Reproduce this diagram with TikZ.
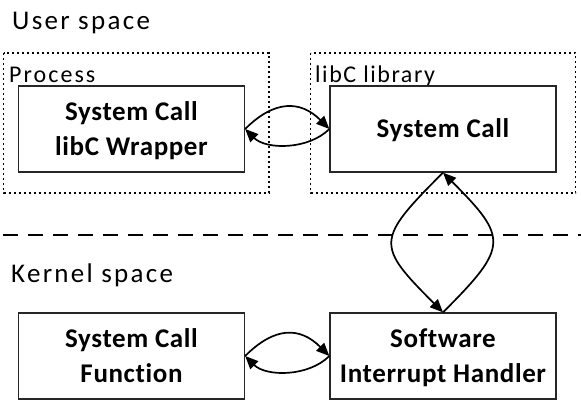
\documentclass[tikz,border=0pt]{standalone}
\usepackage{fontspec}
\setmainfont{Carlito}
\newfontfamily\labelfont[LetterSpace=8.5]{Carlito}
\newfontfamily\libfont[LetterSpace=6.5]{Carlito}
\newfontfamily\boxfont[LetterSpace=2.3,Ligatures={NoCommon}]{Carlito}
\usetikzlibrary{arrows.meta}
\begin{document}
\begin{tikzpicture}[x=1pt,y=-1pt,
  regionlabel/.style={anchor=base west,inner sep=0pt,font=\labelfont\fontsize{27}{30}\selectfont},
  grouplabel/.style={anchor=base west,inner sep=0pt,font=\labelfont\fontsize{24}{26}\selectfont},
  groupbox/.style={draw,line width=1.4pt,dash pattern=on 2pt off 3pt},
  funcbox/.style={draw=black!85,line width=1.3pt,minimum width=226pt,minimum height=86pt,inner sep=0pt,align=center,text height=17pt,text depth=0pt,font=\boxfont\fontsize{27}{35}\selectfont\bfseries},
  twoline/.style={text height=52pt,text depth=0pt},
  flow/.style={line width=1.7pt,-{Triangle[length=13pt,width=11pt]}}
]
\useasboundingbox (0,0) rectangle (581,404);
\node[regionlabel] (us) at (12,30) {User space};
\node[regionlabel] (ks) at (11,282) {Kernel space};
\draw[groupbox] (3.7,53) rectangle (269,193);
\draw[groupbox] (310.7,53) rectangle (575.7,193);
\node[grouplabel] (proc) at (9,82) {Process};
\node[grouplabel,font=\libfont\fontsize{24}{26}\selectfont] (lib) at (315,82) {libC library};
\draw[line width=1.4pt,dash pattern=on 15pt off 10pt] (3,235) -- (581,235);
\node[funcbox,twoline] (wrap) at (131.5,129) {System Call\\libC Wrapper};
\node[funcbox] (sc) at (443,129) {System Call};
\node[funcbox,twoline] (fn) at (131.5,356) {System Call\\Function};
\node[funcbox,twoline] (sih) at (443,356) {Software\\Interrupt Handler};
\draw[flow] (wrap.east) to[out=45,in=135,looseness=1.25] (sc.west);
\draw[flow] (sc.west) to[out=-135,in=-45,looseness=0.9] (wrap.east);
\draw[flow] (sc.south) to[out=-135,in=135,looseness=1.75] (sih.north);
\draw[flow] (sih.north) to[out=45,in=-45,looseness=1.7] (sc.south);
\draw[flow] (fn.east) to[out=45,in=135,looseness=1.27] (sih.west);
\draw[flow] (sih.west) to[out=-135,in=-45,looseness=0.9] (fn.east);
\end{tikzpicture}
\end{document}
